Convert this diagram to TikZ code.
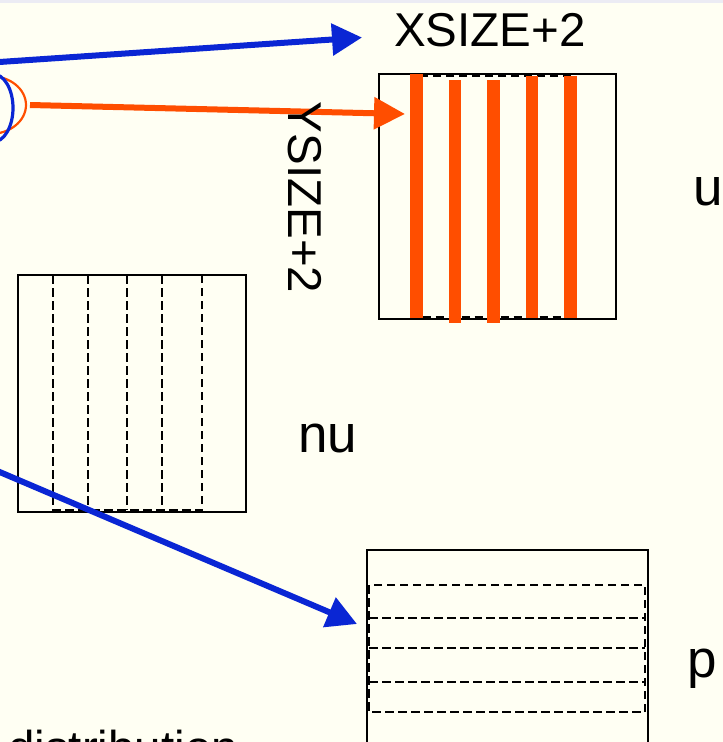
\documentclass[tikz,border=0pt]{standalone}
\usepackage{fontspec}
\setmainfont{Liberation Sans}
\usetikzlibrary{arrows.meta}
\definecolor{bgcream}{RGB}{255,255,243}
\definecolor{topband}{RGB}{236,236,244}
\definecolor{arrblue}{RGB}{10,38,212}
\definecolor{arrorange}{RGB}{255,78,0}
\tikzset{
  bigtxt/.style={inner sep=0pt,font=\fontsize{47.5}{57}\selectfont},
  lbltxt/.style={inner sep=0pt,font=\fontsize{53}{63}\selectfont},
  arraybox/.style={draw=black,line width=2.4pt},
  dashbox/.style={draw=black,line width=2.3pt,dash pattern=on 8.5pt off 4.5pt},
  bluearrow/.style={draw=arrblue,line width=6pt,-{Triangle[length=30pt,width=31pt]}},
  orangearrow/.style={draw=arrorange,line width=6pt,-{Triangle[length=31pt,width=31pt]}},
  bar/.style={draw=arrorange,line width=12.5pt,line cap=butt}
}
\begin{document}
\begin{tikzpicture}[x=1pt,y=-1pt]
\useasboundingbox (0,0) rectangle (723,742);
\fill[bgcream] (0,0) rectangle (723,742);
\fill[topband] (0,0) rectangle (723,3);
\clip (0,0) rectangle (723,742);

% partial ellipses at left edge
\draw[arrorange,line width=2.2pt] (-10,105) ellipse [x radius=36, y radius=29];
\draw[arrblue,line width=3.2pt] (-7,108) ellipse [x radius=20, y radius=34];

% coordinates for arrows
\coordinate (b1s) at (-5,62.3);
\coordinate (b1e) at (362,37.5);
\coordinate (o1s) at (30,105);
\coordinate (o1e) at (405,114);
\coordinate (b2s) at (-5,470);
\coordinate (b2e) at (357,624);

% u array
\node[arraybox,minimum width=237pt,minimum height=245pt,anchor=north west] (ubox) at (378,73) {};
\draw[dashbox] (417,75.5) rectangle (571,317);
\draw[bar] (416.7,74) -- (416.7,318);
\draw[bar] (455,80) -- (455,323);
\draw[bar] (493.3,80) -- (493.3,323);
\draw[bar] (532,76) -- (532,318);
\draw[bar] (570.7,76) -- (570.7,318);

% nu array
\node[arraybox,minimum width=228pt,minimum height=237pt,anchor=north west] (nubox) at (17,274) {};
\draw[dashbox] (53,275) rectangle (202,510);
\draw[dashbox] (88,275) -- (88,510);
\draw[dashbox] (127,275) -- (127,510);
\draw[dashbox] (162,275) -- (162,510);

% p array
\node[arraybox,minimum width=281pt,minimum height=220pt,anchor=north west] (pbox) at (366,549) {};
\draw[dashbox] (369,585) rectangle (645,712);
\draw[dashbox] (369,618) -- (645,618);
\draw[dashbox] (369,648) -- (645,648);
\draw[dashbox] (369,682) -- (645,682);

% arrows
\draw[bluearrow] (b1s) -- (b1e);
\draw[orangearrow] (o1s) -- (o1e);
\draw[bluearrow] (b2s) -- (b2e);

% labels
\node[bigtxt,anchor=base] (xsize) at (490,46) {XSIZE+2};
\node[bigtxt,anchor=base,rotate=-90] (ysize) at (288,197.5) {YSIZE+2};
\node[lbltxt,anchor=base] (ulbl) at (708,205) {u};
\node[lbltxt,anchor=base] (nulbl) at (328,452) {nu};
\node[lbltxt,anchor=base] (plbl) at (702,677) {p};
\node[bigtxt,anchor=base west] (dist) at (8,764) {distribution};
\end{tikzpicture}
\end{document}
